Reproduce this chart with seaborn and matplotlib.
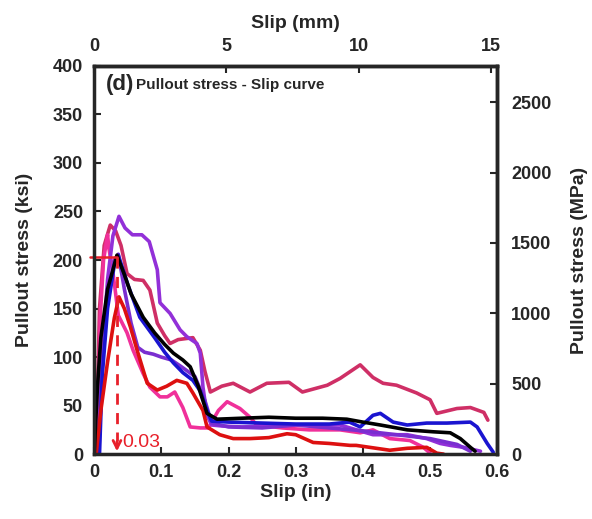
import pandas as pd
import numpy as np
import matplotlib
matplotlib.use('Agg')
import matplotlib.pyplot as plt
import seaborn as sns

# --- data (slip in inches, stress in ksi) ---
black_x = [0, 0.005, 0.01, 0.02, 0.034, 0.045, 0.055, 0.073, 0.09, 0.105, 0.118, 0.132, 0.143, 0.155,
           0.168, 0.183, 0.22, 0.26, 0.3, 0.34, 0.376, 0.4, 0.426, 0.466, 0.505, 0.53, 0.545, 0.56, 0.567]
black_y = [0, 70, 120, 170, 205, 185, 165, 141, 125, 113, 104, 97, 90, 70,
           42, 36, 37, 38, 37, 37, 36, 33, 30, 25, 23, 22, 16, 7, 3]

blue_x = [0.008, 0.012, 0.02, 0.03, 0.036, 0.05, 0.068, 0.09, 0.105, 0.118, 0.132, 0.147, 0.158, 0.168,
          0.175, 0.2, 0.25, 0.3, 0.35, 0.38, 0.396, 0.415, 0.426, 0.445, 0.466, 0.495, 0.525, 0.56,
          0.57, 0.585, 0.594]
blue_y = [0, 80, 150, 195, 205, 175, 141, 120, 105, 94, 84, 76, 65, 45,
          34, 33, 32, 31, 31, 33, 28, 40, 42, 33, 30, 32, 32, 33,
          28, 11, 2]

violet_x = [0.007, 0.012, 0.02, 0.028, 0.037, 0.046, 0.057, 0.071, 0.082, 0.094, 0.098, 0.113, 0.128,
            0.138, 0.153, 0.158, 0.162, 0.168, 0.175, 0.19, 0.22, 0.26, 0.3, 0.34, 0.366, 0.415, 0.466,
            0.495, 0.515, 0.53, 0.55, 0.575]
violet_y = [0, 100, 180, 225, 245, 233, 226, 226, 219, 190, 156, 145, 128,
            121, 114, 104, 69, 40, 30, 29, 28, 29, 30, 30, 30, 20, 20,
            16, 11, 9, 7, 3]

indigo_x = [0.006, 0.012, 0.02, 0.03, 0.036, 0.045, 0.055, 0.065, 0.075, 0.088, 0.1, 0.115, 0.13,
            0.15, 0.165, 0.175, 0.2, 0.25, 0.3, 0.35, 0.4, 0.45, 0.5, 0.54, 0.56]
indigo_y = [0, 90, 160, 200, 206, 170, 135, 110, 105, 103, 100, 97, 90,
            80, 55, 32, 28, 27, 30, 27, 24, 20, 16, 10, 3]

crimson_x = [0.003, 0.008, 0.015, 0.024, 0.032, 0.04, 0.049, 0.06, 0.073, 0.083, 0.094, 0.105, 0.113,
             0.125, 0.147, 0.158, 0.165, 0.173, 0.19, 0.207, 0.232, 0.257, 0.29, 0.31, 0.347, 0.366,
             0.396, 0.415, 0.43, 0.45, 0.48, 0.5, 0.51, 0.54, 0.56, 0.58, 0.586]
crimson_y = [0, 150, 215, 236, 230, 215, 186, 180, 179, 169, 135, 122, 114,
             118, 120, 107, 85, 64, 70, 73, 64, 73, 74, 64, 71, 78,
             92, 79, 73, 71, 63, 56, 42, 47, 48, 43, 35]

pink_x = [0.004, 0.009, 0.014, 0.02, 0.022, 0.027, 0.031, 0.036, 0.049, 0.058, 0.073, 0.083, 0.098,
          0.109, 0.12, 0.132, 0.143, 0.158, 0.17, 0.185, 0.198, 0.217, 0.232, 0.242, 0.28, 0.32,
          0.366, 0.396, 0.415, 0.44, 0.47, 0.49, 0.5]
pink_y = [0, 140, 200, 226, 212, 192, 171, 143, 125, 107, 83, 69, 59,
          59, 64, 48, 28, 27, 27, 45, 54, 47, 38, 30, 27, 25,
          25, 22, 25, 16, 14, 7, 1]

red_x = [0.003, 0.01, 0.02, 0.03, 0.037, 0.045, 0.054, 0.064, 0.079, 0.094, 0.108, 0.123, 0.138,
         0.147, 0.162, 0.168, 0.187, 0.207, 0.232, 0.26, 0.287, 0.3, 0.326, 0.35, 0.381, 0.39, 0.44,
         0.466, 0.495, 0.51, 0.52]
red_y = [0, 45, 95, 140, 162, 150, 131, 107, 73, 66, 70, 76, 73,
         63, 45, 28, 20, 16, 16, 17, 21, 20, 12, 11, 9, 9, 4,
         6, 7, 1, 0]

curves = {
    'crimson': (crimson_x, crimson_y),
    'pink': (pink_x, pink_y),
    'violet': (violet_x, violet_y),
    'indigo': (indigo_x, indigo_y),
    'blue': (blue_x, blue_y),
    'red': (red_x, red_y),
    'black': (black_x, black_y),
}
palette = {'crimson': '#cf2f66', 'pink': '#f0309a', 'violet': '#9230d8', 'indigo': '#7a2ed0',
           'blue': '#1a14d0', 'red': '#dd1010', 'black': '#000000'}

peak_slip = 0.034
peak_stress = 203

df = pd.concat([pd.DataFrame({'slip': x, 'stress': y, 'specimen': k}) for k, (x, y) in curves.items()],
               ignore_index=True)

sns.set_style('ticks')
plt.rcParams['font.family'] = ['Liberation Sans', 'DejaVu Sans']
plt.rcParams['font.weight'] = 'bold'

fig = plt.figure(figsize=(5.92, 5.19), dpi=100)
ax = fig.add_axes([0.159, 0.125, 0.681, 0.748])

sns.lineplot(data=df, x='slip', y='stress', hue='specimen', palette=palette, sort=False,
             estimator=None, legend=False, linewidth=2.6, ax=ax)

# peak marker: horizontal line, dashed drop with arrow
red_c = '#e8202a'
ax.plot([-0.006, peak_slip], [peak_stress, peak_stress], color=red_c, lw=1.8, clip_on=False)
ax.plot([peak_slip, peak_slip], [peak_stress, 14], color=red_c, lw=2.0, ls=(0, (4, 3)))
ax.annotate('', xy=(peak_slip, 0), xytext=(peak_slip, 16),
            arrowprops=dict(arrowstyle='->', color=red_c, lw=2.0, mutation_scale=14))
ax.text(peak_slip + 0.008, 12, '0.03', color=red_c, fontsize=14, fontweight='normal', va='center')

ax.set_xlim(0, 0.6)
ax.set_ylim(0, 400)
ax.set_xticks([0, 0.1, 0.2, 0.3, 0.4, 0.5, 0.6])
ax.set_xticklabels(['0', '0.1', '0.2', '0.3', '0.4', '0.5', '0.6'])
ax.set_yticks(range(0, 401, 50))
ax.set_xlabel('Slip (in)', fontsize=14, fontweight='bold', labelpad=2)
ax.set_ylabel('Pullout stress (ksi)', fontsize=14, fontweight='bold', labelpad=14)
ax.tick_params(direction='in', length=5, width=1.5, labelsize=13, top=False, right=False)
ax.tick_params(axis='x', pad=7)
ax.tick_params(axis='y', pad=8)

for s in ax.spines.values():
    s.set_linewidth(2.5)
    s.set_visible(True)

top = ax.secondary_xaxis('top', functions=(lambda v: v * 25.4, lambda v: v / 25.4))
top.set_xticks([0, 5, 10, 15])
top.set_xlabel('Slip (mm)', fontsize=14, fontweight='bold', labelpad=7)
top.tick_params(direction='in', length=5, width=1.5, labelsize=13, pad=8)
top.spines['top'].set_linewidth(2.5)

right = ax.secondary_yaxis('right', functions=(lambda v: v * 6.895, lambda v: v / 6.895))
right.set_yticks([0, 500, 1000, 1500, 2000, 2500])
right.set_ylabel('Pullout stress (MPa)', fontsize=14, fontweight='bold', labelpad=14)
right.tick_params(direction='in', length=5, width=1.5, labelsize=13, pad=10)
right.spines['right'].set_linewidth(2.5)

ax.text(0.017, 381, '(d)', fontsize=16, fontweight='bold', va='center')
ax.text(0.062, 380, 'Pullout stress - Slip curve', fontsize=11, fontweight='bold', va='center')

fig.savefig('out.png', dpi=100)
